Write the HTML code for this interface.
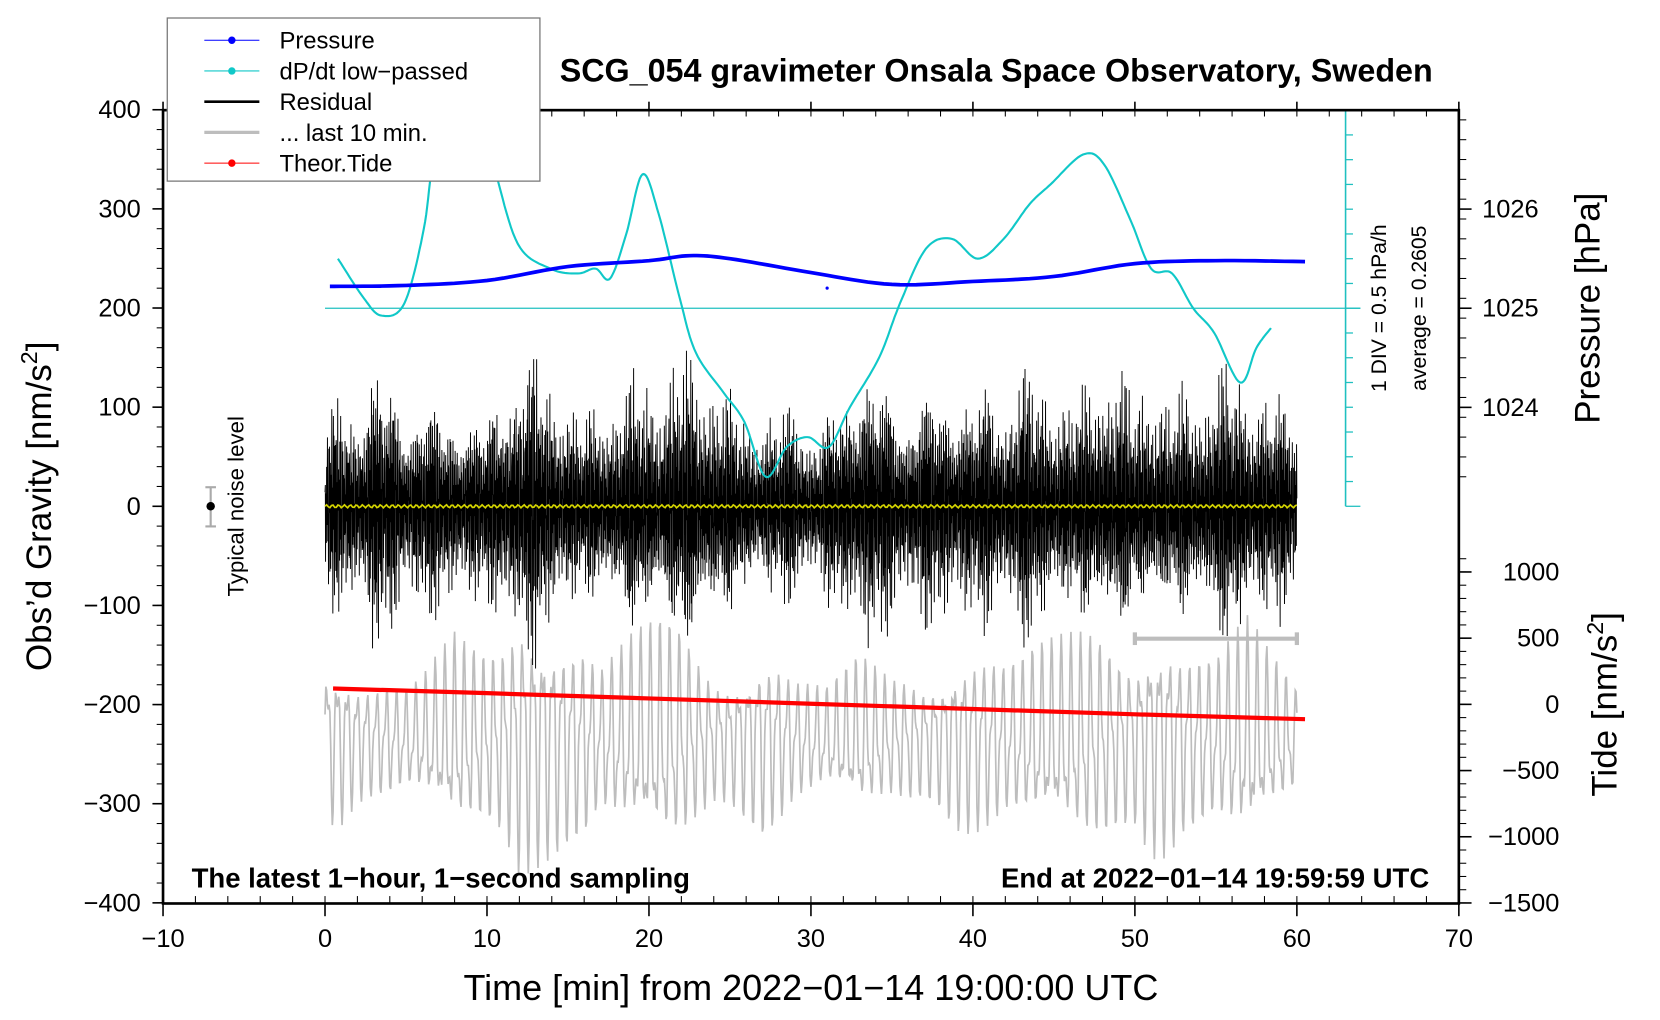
<!DOCTYPE html>
<html><head><meta charset="utf-8"><style>
html,body{margin:0;padding:0;background:#fff;width:1660px;height:1020px;overflow:hidden}
svg{display:block;font-family:"Liberation Sans",sans-serif}
</style></head><body>
<svg id="chart" width="1660" height="1020" viewBox="0 0 1568 963" preserveAspectRatio="none">
<g id="plot"></g>
</svg>
<script>
// ---- data ----
const xTicks = [-10,0,10,20,30,40,50,60,70];
const yTicks = [400,300,200,100,0,-100,-200,-300,-400];
const pTicks = [1026,1025,1024];
const tideTicks = [1000,500,0,-500,-1000,-1500];
// pressure hPa at minute
const pressMin = [0.3,5,10,15,20,22.5,25,30,35,40,45,50,55,60.5];
const pressVal = [1025.22,1025.23,1025.28,1025.42,1025.48,1025.53,1025.50,1025.36,1025.24,1025.27,1025.32,1025.45,1025.48,1025.47];
// dP/dt low-passed, hPa/h
const dpMin = [0.8,2.4,3.5,4.9,6.1,6.9,8.5,9.4,10.4,11.9,13.9,15.6,16.7,17.6,18.6,19.6,20.6,21.9,22.9,24.6,25.9,27.2,28.5,29.8,31.1,32.4,34.2,35.5,37.1,38.7,40.3,41.9,43.5,44.8,46.8,48.1,49.7,51.0,52.3,53.6,54.9,56.5,57.5,58.4];
const dpVal = [1.0,0.2,-0.15,0.1,1.6,3.4,4.3,4.0,2.9,1.3,0.8,0.7,0.8,0.6,1.5,2.7,1.9,0.2,-0.9,-1.7,-2.3,-3.4,-2.8,-2.6,-2.8,-2.0,-1.0,0.1,1.2,1.4,1.0,1.4,2.1,2.5,3.1,2.9,1.8,0.8,0.7,0,-0.5,-1.5,-0.8,-0.4];
// theoretical tide nm/s^2
const tideMin = [0.5,10,20,30,40,50,60.5];
const tideVal = [120,85,45,5,-35,-75,-112];
// residual envelope amplitude (nm/s^2) per minute 0..60
const resAmp = [95,120,110,150,135,105,120,110,110,95,100,135,150,165,145,105,95,115,110,130,140,120,160,150,135,110,100,90,95,120,80,95,125,150,140,130,110,125,130,120,115,135,115,150,140,120,110,125,150,140,115,130,110,120,125,140,150,125,120,115,110];
// last 10 min residual envelope per minute of plotted axis 0..60
const lastAmp = [80,80,60,55,55,50,60,80,100,90,85,95,130,120,110,100,95,70,85,100,110,115,105,80,60,60,75,90,80,60,55,50,65,80,70,60,60,55,65,85,90,85,75,80,90,95,100,105,100,85,80,110,110,90,85,80,100,115,90,70,50];
// ---- scales ----
const X = m => 307 + m*15.3;
const Y = g => 478 - g*0.936;
const YP = p => 291 - (p-1025)*93.6;
const YD = d => 291 - d/0.5*23.4;
const YT = t => 665 - t*0.125;
const NS="http://www.w3.org/2000/svg";
const svg=document.getElementById('plot');
function el(tag,attrs,parent){const e=document.createElementNS(NS,tag);for(const k in attrs)e.setAttribute(k,attrs[k]);(parent||svg).appendChild(e);return e;}
function txt(s,attrs){const e=el('text',attrs);e.textContent=s;return e;}
function interp(xs,ys,x){if(x<=xs[0])return ys[0];for(let i=1;i<xs.length;i++){if(x<=xs[i]){const f=(x-xs[i-1])/(xs[i]-xs[i-1]);return ys[i-1]+f*(ys[i]-ys[i-1]);}}return ys[ys.length-1];}
function smooth(xs,ys,n){let pts=[];for(let i=0;i<xs.length-1;i++){const p0=i>0?i-1:i,p3=i+2<xs.length?i+2:i+1;for(let k=0;k<n;k++){const t=k/n,t2=t*t,t3=t2*t;const cr=(a,b,c,d)=>0.5*((2*b)+(-a+c)*t+(2*a-5*b+4*c-d)*t2+(-a+3*b-3*c+d)*t3);pts.push([cr(xs[p0],xs[i],xs[i+1],xs[p3]),cr(ys[p0],ys[i],ys[i+1],ys[p3])]);}}pts.push([xs[xs.length-1],ys[ys.length-1]]);return pts;}

// gray last 10 min
let gp=[];
for(let i=0;i<=1200;i++){const m=i*0.05;const a=interp(lastAmp.map((_,k)=>k),lastAmp,m);
 const v=-235+a*(0.75*Math.sin(m*10.4)+0.35*Math.sin(m*21.3+1.1));gp.push(X(m).toFixed(1)+','+Y(v).toFixed(1));}
const g1=el('polyline',{points:gp.join(' '),fill:'none',stroke:'#bdbdbd','stroke-width':1.6});


// residual
let rp=[];
for(let i=0;i<=3600;i++){const m=i/60;const a=interp(resAmp.map((_,k)=>k),resAmp,m);
 const mod=0.55+0.45*Math.abs(Math.sin(i*0.043)*Math.sin(i*0.0171+1));
 const v=a*mod*(0.7*Math.sin(i*2.31)+0.3*Math.sin(i*0.77+2)+0.25*Math.sin(i*5.13));rp.push(X(m).toFixed(1)+','+Y(v).toFixed(1));}
const r1=el('polyline',{points:rp.join(' '),fill:'none',stroke:'#000','stroke-width':0.9});


// yellow mean
let yp=[];for(let i=0;i<=600;i++){const m=i/10;yp.push(X(m).toFixed(1)+','+Y(1.5*Math.sin(i*1.7)).toFixed(1));}
const y1=el('polyline',{points:yp.join(' '),fill:'none',stroke:'#d4d400','stroke-width':1.6});


// dP/dt baseline and scale
const b1=el('line',{x1:307,y1:291,x2:1285,y2:291,stroke:'#20c0c0','stroke-width':1.2});


const sc=el('line',{x1:1271,y1:104,x2:1271,y2:478,stroke:'#20c0c0','stroke-width':1.5});


for(let k=0;k<=16;k++){const yy=104+k*23.375;const w=(k===8||k===16)?14:7;el('line',{x1:1271,y1:yy,x2:1271+w,y2:yy,stroke:'#20c0c0','stroke-width':1.2});}
// dP/dt curve
const dpPts=smooth(dpMin,dpVal,12).map(p=>X(p[0]).toFixed(1)+','+YD(p[1]).toFixed(1));
const d1=el('polyline',{points:dpPts.join(' '),fill:'none',stroke:'#10c8c8','stroke-width':2});


// pressure
const pl=el('polyline',{points:smooth(pressMin,pressVal,10).map(p=>X(p[0]).toFixed(1)+','+YP(p[1]).toFixed(1)).join(' '),fill:'none',stroke:'#0000ff','stroke-width':3.5});


el('circle',{cx:X(31),cy:272,r:1.5,fill:'#00f'});
// tide
const tl=el('polyline',{points:tideMin.map((m,i)=>X(m).toFixed(1)+','+YT(tideVal[i]).toFixed(1)).join(' '),fill:'none',stroke:'#ff0000','stroke-width':4});


// 10-min scale bar
const sb=el('g',{stroke:'#bdbdbd','stroke-width':4});


el('line',{x1:X(50),y1:603,x2:X(60),y2:603},sb);el('line',{x1:X(50),y1:597,x2:X(50),y2:609},sb);el('line',{x1:X(60),y1:597,x2:X(60),y2:609},sb);
// noise indicator
const nz=el('g',{});


el('line',{x1:199,y1:460,x2:199,y2:497,stroke:'#aaa','stroke-width':2},nz);
el('line',{x1:194,y1:460,x2:204,y2:460,stroke:'#aaa','stroke-width':2},nz);
el('line',{x1:194,y1:497,x2:204,y2:497,stroke:'#aaa','stroke-width':2},nz);
el('circle',{cx:199,cy:478,r:4,fill:'#000'},nz);
const nt=txt('Typical noise level',{x:0,y:0,transform:'translate(230,478) rotate(-90)','text-anchor':'middle','font-size':21});


// frame
const fr=el('rect',{x:154,y:104,width:1224,height:749,fill:'none',stroke:'#000','stroke-width':2.5});


// x ticks
xTicks.forEach(v=>{const x=X(v);el('line',{x1:x,y1:853,x2:x,y2:865,stroke:'#000','stroke-width':1.5});el('line',{x1:x,y1:104,x2:x,y2:96,stroke:'#000','stroke-width':1.5});
 const t=txt(String(v).replace('-','\u2212'),{x:x,y:894,'text-anchor':'middle','font-size':24});
 
 });
for(let v=-10;v<=70;v+=2){const x=X(v);el('line',{x1:x,y1:853,x2:x,y2:846,stroke:'#000'});el('line',{x1:x,y1:104,x2:x,y2:110,stroke:'#000'});}
// y ticks
yTicks.forEach(v=>{const y=Y(v);el('line',{x1:154,y1:y,x2:144,y2:y,stroke:'#000','stroke-width':1.5});
 const t=txt(String(v).replace('-','\u2212'),{x:133,y:y+8,'text-anchor':'end','font-size':24});
 
 });
for(let v=-400;v<=400;v+=20){const y=Y(v);el('line',{x1:154,y1:y,x2:148,y2:y,stroke:'#000'});}
// pressure ticks
pTicks.forEach(v=>{const y=YP(v);el('line',{x1:1378,y1:y,x2:1390,y2:y,stroke:'#000','stroke-width':1.5});
 const t=txt(String(v),{x:1400,y:y+8,'font-size':24});
 
 });
for(let v=1023.3;v<=1027.1;v+=0.2){const y=YP(v);if(y>=104&&y<=478)el('line',{x1:1378,y1:y,x2:1385,y2:y,stroke:'#000'});}
// tide ticks
tideTicks.forEach(v=>{const y=YT(v);el('line',{x1:1378,y1:y,x2:1390,y2:y,stroke:'#000','stroke-width':1.5});
 const t=txt(String(v).replace('-','\u2212'),{x:1473,y:y+8,'text-anchor':'end','font-size':24});
 
 });
for(let v=-1500;v<=1100;v+=100){const y=YT(v);if(y<=853&&y>=520)el('line',{x1:1378,y1:y,x2:1385,y2:y,stroke:'#000'});}
// titles
const tt=txt('SCG_054 gravimeter Onsala Space Observatory, Sweden',{x:941,y:77,'text-anchor':'middle','font-size':30.5,'font-weight':'bold'});


const xt=txt('Time [min] from 2022\u221201\u221214 19:00:00 UTC',{x:766,y:944,'text-anchor':'middle','font-size':34});


const yt=el('text',{transform:'translate(48,478) rotate(-90)','text-anchor':'middle','font-size':33});
yt.innerHTML='Obs\u2019d Gravity [nm/s<tspan dy="-13" font-size="22">2</tspan><tspan dy="13">]</tspan>';


const pt=txt('Pressure [hPa]',{transform:'translate(1511,291) rotate(-90)','text-anchor':'middle','font-size':33});


const tdt=el('text',{transform:'translate(1527,665) rotate(-90)','text-anchor':'middle','font-size':33});
tdt.innerHTML='Tide [nm/s<tspan dy="-13" font-size="22">2</tspan><tspan dy="13">]</tspan>';


const dv=txt('1 DIV = 0.5 hPa/h',{transform:'translate(1309,291) rotate(-90)','text-anchor':'middle','font-size':20});


const av=txt('average = 0.2605',{transform:'translate(1347,291) rotate(-90)','text-anchor':'middle','font-size':20});


const l1=txt('The latest 1\u2212hour, 1\u2212second sampling',{x:181,y:838,'font-size':26,'font-weight':'bold'});


const l2=txt('End at 2022\u221201\u221214 19:59:59 UTC',{x:1350,y:838,'text-anchor':'end','font-size':26,'font-weight':'bold'});


// legend
const lg=el('g',{});


el('rect',{x:158,y:17,width:352,height:154,fill:'#fff',stroke:'#777','stroke-width':1.2},lg);
const items=[['Pressure','#0000ff',1,true],['dP/dt low\u2212passed','#10c8c8',1,true],['Residual','#000',2.5,false],['... last 10 min.','#bdbdbd',3,false],['Theor.Tide','#ff0000',1,true]];
items.forEach((it,i)=>{const y=38+i*29;
 const e=el('g',{},lg);
 
 
 el('line',{x1:193,y1:y,x2:245,y2:y,stroke:it[1],'stroke-width':it[2]},e);
 if(it[3])el('circle',{cx:219,cy:y,r:3.5,fill:it[1]},e);
 const t=el('text',{x:264,y:y+8,'font-size':22.5},e);t.textContent=it[0];});
</script>
</body></html>
